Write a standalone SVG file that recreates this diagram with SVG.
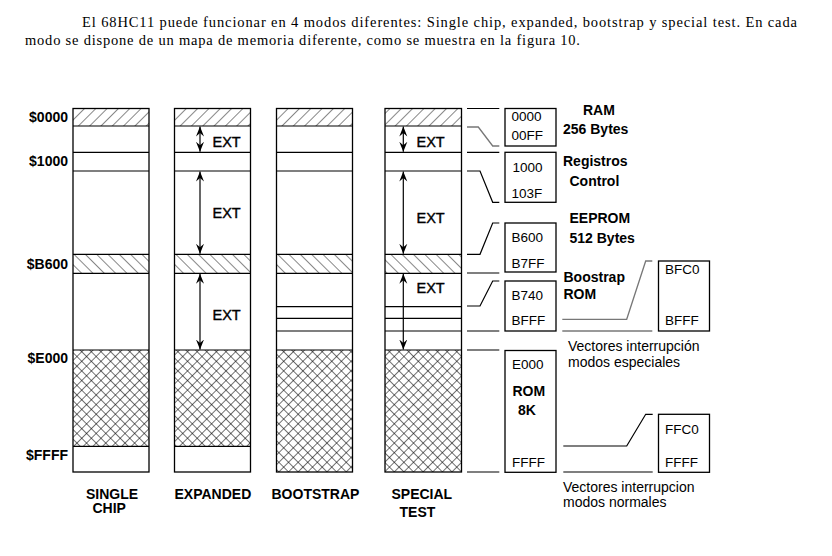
<svg xmlns="http://www.w3.org/2000/svg" width="832" height="556" viewBox="0 0 832 556">
<style>
.bg{fill:#fff}
.col{fill:none;stroke:#000;stroke-width:1.3}
.ln{fill:none;stroke:#000;stroke-width:1.2}
.gr{fill:none;stroke:#777;stroke-width:1.3}
.arr{fill:none;stroke:#000;stroke-width:1.2;marker-start:url(#ah);marker-end:url(#ah)}
.para{font-family:"Liberation Serif","Times New Roman",serif;font-size:14.5px;fill:#000}
.lbl{font-family:"Liberation Sans",Arial,sans-serif;font-size:14px;font-weight:bold;fill:#000}
.ext{font-family:"Liberation Sans",Arial,sans-serif;font-size:14.5px;fill:#000;stroke:#000;stroke-width:0.4}
.bx{font-family:"Liberation Sans",Arial,sans-serif;font-size:13.5px;fill:#000}
.note{font-family:"Liberation Sans",Arial,sans-serif;font-size:14px;fill:#000}
</style>
<defs>
<pattern id="hUp" patternUnits="userSpaceOnUse" width="8" height="8" patternTransform="rotate(45)">
<line x1="0" y1="0" x2="0" y2="8" stroke="#111" stroke-width="1"/>
</pattern>
<pattern id="hDn" patternUnits="userSpaceOnUse" width="8" height="8" patternTransform="rotate(-45)">
<line x1="0" y1="0" x2="0" y2="8" stroke="#111" stroke-width="1"/>
</pattern>
<pattern id="hX" patternUnits="userSpaceOnUse" width="6.8" height="6.8" patternTransform="rotate(45)">
<line x1="0" y1="0" x2="0" y2="6.8" stroke="#000" stroke-width="1.1"/>
<line x1="0" y1="0" x2="6.8" y2="0" stroke="#000" stroke-width="1.1"/>
</pattern>
<marker id="ah" viewBox="-10 -5 10 10" refX="0" refY="0" markerWidth="10" markerHeight="10" markerUnits="userSpaceOnUse" orient="auto-start-reverse">
<path d="M0,0 L-10,-4 L-6.5,0 L-10,4 Z" fill="#000"/>
</marker>
</defs>
<rect class="bg" x="0" y="0" width="832" height="556"/>

<g id="paragraph">
<text class="para" x="82" y="27" textLength="715" lengthAdjust="spacing">El 68HC11 puede funcionar en 4 modos diferentes: Single chip, expanded, bootstrap y special test. En cada</text>
<text class="para" x="25" y="45" textLength="555" lengthAdjust="spacing">modo se dispone de un mapa de memoria diferente, como se muestra en la figura 10.</text>
</g>

<g id="address-labels">
<text class="lbl" x="68" y="122" text-anchor="end">$0000</text>
<text class="lbl" x="68" y="166" text-anchor="end">$1000</text>
<text class="lbl" x="68" y="269" text-anchor="end">$B600</text>
<text class="lbl" x="68" y="363" text-anchor="end">$E000</text>
<text class="lbl" x="68" y="460" text-anchor="end">$FFFF</text>
</g>

<g id="single-chip">
<rect x="73" y="108.5" width="76" height="17.5" fill="url(#hUp)"/>
<rect x="73" y="254.3" width="76" height="19" fill="url(#hDn)"/>
<rect x="73" y="350" width="76" height="96.3" fill="url(#hX)"/>
<rect class="col" x="73" y="108.5" width="76" height="363.5"/>
<path class="ln" d="M73,126H149M73,152.3H149M73,171H149M73,254.3H149M73,273.3H149M73,350H149M73,446.3H149"/>
<text class="lbl" x="86" y="499">SINGLE</text>
<text class="lbl" x="92.5" y="513">CHIP</text>
</g>

<g id="expanded">
<rect x="174.5" y="108.5" width="76" height="17.5" fill="url(#hUp)"/>
<rect x="174.5" y="254.3" width="76" height="19" fill="url(#hDn)"/>
<rect x="174.5" y="350" width="76" height="96.3" fill="url(#hX)"/>
<rect class="col" x="174.5" y="108.5" width="76" height="363.5"/>
<path class="ln" d="M174.5,126H250.5M174.5,152.3H250.5M174.5,171H250.5M174.5,254.3H250.5M174.5,273.3H250.5M174.5,350H250.5M174.5,446.3H250.5"/>
<text class="ext" x="212.5" y="147.3">EXT</text>
<text class="ext" x="212.5" y="218.3">EXT</text>
<text class="ext" x="212.5" y="320">EXT</text>
<text class="lbl" x="174.5" y="499">EXPANDED</text>
</g>

<g id="bootstrap">
<rect x="276.5" y="108.5" width="76" height="17.5" fill="url(#hUp)"/>
<rect x="276.5" y="254.3" width="76" height="19" fill="url(#hDn)"/>
<rect x="276.5" y="350" width="76" height="122" fill="url(#hX)"/>
<rect class="col" x="276.5" y="108.5" width="76" height="363.5"/>
<path class="ln" d="M276.5,126H352.5M276.5,152.3H352.5M276.5,171H352.5M276.5,254.3H352.5M276.5,273.3H352.5M276.5,306.7H352.5M276.5,318.3H352.5M276.5,331H352.5M276.5,350H352.5"/>
<text class="lbl" x="271.5" y="499">BOOTSTRAP</text>
</g>

<g id="special-test">
<rect x="385" y="108.5" width="76.5" height="17.5" fill="url(#hUp)"/>
<rect x="385" y="254.3" width="76.5" height="19" fill="url(#hDn)"/>
<rect x="385" y="350" width="76.5" height="122" fill="url(#hX)"/>
<rect class="col" x="385" y="108.5" width="76.5" height="363.5"/>
<path class="ln" d="M385,126H461.5M385,152.3H461.5M385,171H461.5M385,254.3H461.5M385,273.3H461.5M385,306.7H461.5M385,318.3H461.5M385,331H461.5M385,350H461.5"/>
<text class="ext" x="416.5" y="147.3">EXT</text>
<text class="ext" x="416.5" y="223.3">EXT</text>
<text class="ext" x="416.5" y="293.3">EXT</text>
<text class="lbl" x="391.5" y="499">SPECIAL</text>
<text class="lbl" x="399.5" y="516.5">TEST</text>
</g>

<g id="box-ram">
<rect class="col" x="505" y="108.5" width="51" height="37.5"/>
<text class="bx" x="511.5" y="121">0000</text>
<text class="bx" x="511.5" y="139.5">00FF</text>
<text class="lbl" x="583" y="115">RAM</text>
<text class="lbl" x="563" y="134">256 Bytes</text>
</g>

<g id="box-registros">
<rect class="col" x="505" y="152.3" width="51" height="50"/>
<text class="bx" x="512.5" y="172">1000</text>
<text class="bx" x="511.5" y="198">103F</text>
<text class="lbl" x="563" y="166">Registros</text>
<text class="lbl" x="569.5" y="186">Control</text>
</g>

<g id="box-eeprom">
<rect class="col" x="505" y="223" width="51" height="49"/>
<text class="bx" x="511.5" y="242">B600</text>
<text class="bx" x="511.5" y="268">B7FF</text>
<text class="lbl" x="569.5" y="223.3">EEPROM</text>
<text class="lbl" x="569.5" y="243">512 Bytes</text>
</g>

<g id="box-bootrom">
<rect class="col" x="505" y="281" width="51" height="50"/>
<text class="bx" x="511.5" y="299.5">B740</text>
<text class="bx" x="511.5" y="324.5">BFFF</text>
<text class="lbl" x="563.5" y="282">Boostrap</text>
<text class="lbl" x="563.5" y="298.5">ROM</text>
</g>

<g id="box-rom">
<rect class="col" x="505" y="350.5" width="51" height="121.8"/>
<text class="bx" x="512" y="369">E000</text>
<text class="lbl" x="512.5" y="396">ROM</text>
<text class="lbl" x="518" y="415">8K</text>
<text class="bx" x="512" y="466.7">FFFF</text>
</g>

<g id="box-vect-special">
<rect class="col" x="658.5" y="261" width="51" height="70"/>
<text class="bx" x="665" y="274">BFC0</text>
<text class="bx" x="665" y="324.5">BFFF</text>
<text class="note" x="568" y="351">Vectores interrupción</text>
<text class="note" x="568" y="366.5">modos especiales</text>
</g>

<g id="box-vect-normal">
<rect class="col" x="658.5" y="414.3" width="51" height="58"/>
<text class="bx" x="665" y="433.5">FFC0</text>
<text class="bx" x="665" y="466.7">FFFF</text>
<text class="note" x="563" y="492">Vectores interrupcion</text>
<text class="note" x="563" y="507">modos normales</text>
</g>

<g id="connectors">
<path class="arr" d="M200,126.5V151.8"/>
<path class="arr" d="M200,171.5V253.8"/>
<path class="arr" d="M200,273.8V349.5"/>
<path class="arr" d="M403.3,126.5V151.8"/>
<path class="arr" d="M403.3,171.5V253.8"/>
<path class="arr" d="M403.3,273.8V349.5"/>
<path class="ln" d="M467,108.5H499.3"/>
<path class="gr" d="M467,127H478.3L492.7,146H499.3"/>
<path class="ln" d="M467,152.3H499.3"/>
<path class="ln" d="M467,171H480L492.7,202.3H499.3"/>
<path class="ln" d="M467,254.3H480L492.7,223H499.3"/>
<path class="ln" d="M467,273H499.3"/>
<path class="ln" d="M467,306H480L492.7,281H499.3"/>
<path class="ln" d="M467,331H499.3"/>
<path class="ln" d="M467,350H499.3"/>
<path class="ln" d="M467,472H499.3"/>
<path class="gr" d="M562.3,319.3H626.7L645.7,261H652.3"/>
<path class="gr" d="M562.3,331H652.3"/>
<path class="ln" d="M563.3,446H626.7L645.7,414.3H652.7"/>
<path class="ln" d="M563.3,472H652.7"/>
</g>
</svg>
